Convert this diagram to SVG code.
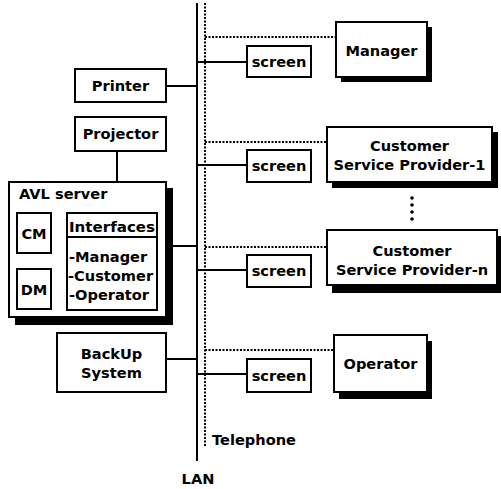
<svg xmlns="http://www.w3.org/2000/svg" width="501" height="489" viewBox="0 0 501 489">
<style>
.box{fill:#fff;stroke:#000;stroke-width:2}
.sh{fill:#000}
.t{font-family:"DejaVu Sans",Verdana,sans-serif;font-weight:bold;font-size:14.6px;fill:#000}
.c{text-anchor:middle}
.lan{stroke:#000;stroke-width:2;fill:none}
.tel{stroke:#000;stroke-width:2;stroke-dasharray:2 1.5;fill:none}
</style>
<rect width="501" height="489" fill="#fff"/>
<g id="connectors">
<line class="lan" x1="197" y1="3" x2="197" y2="461"/>
<line class="tel" x1="205" y1="3" x2="205" y2="447"/>
<line class="lan" x1="166" y1="86" x2="197" y2="86"/>
<line class="lan" x1="117" y1="151" x2="117" y2="182"/>
<line class="lan" x1="166" y1="246" x2="197" y2="246"/>
<line class="lan" x1="166" y1="359" x2="197" y2="359"/>
<line class="lan" x1="197" y1="62" x2="247" y2="62"/>
<line class="lan" x1="197" y1="165" x2="247" y2="165"/>
<line class="lan" x1="197" y1="270" x2="247" y2="270"/>
<line class="lan" x1="197" y1="374" x2="247" y2="374"/>
<line class="tel" x1="205" y1="37" x2="336" y2="37"/>
<line class="tel" x1="205" y1="142" x2="327" y2="142"/>
<line class="tel" x1="205" y1="247" x2="327" y2="247"/>
<line class="tel" x1="205" y1="350" x2="334" y2="350"/>
</g>
<g id="printer"><rect class="box" x="75" y="69" width="91" height="33"/><text class="t c" x="120.5" y="91">Printer</text></g>
<g id="projector"><rect class="box" x="75" y="117" width="91" height="34"/><text class="t c" x="120.5" y="139">Projector</text></g>
<g id="avl">
<rect class="sh" x="15" y="188" width="158" height="137"/>
<rect class="box" x="9" y="182" width="157" height="135"/>
<text class="t" x="19" y="199">AVL server</text>
<g id="cm"><rect class="box" x="17" y="213" width="34" height="40"/><text class="t c" x="34" y="239">CM</text></g>
<g id="dm"><rect class="box" x="17" y="269" width="34" height="40"/><text class="t c" x="34" y="295">DM</text></g>
<g id="interfaces"><rect class="box" x="67" y="213" width="90" height="97"/><line class="lan" x1="67" y1="237" x2="157" y2="237"/>
<text class="t c" x="112" y="232" textLength="86" lengthAdjust="spacingAndGlyphs">Interfaces</text>
<text class="t" x="69" y="262">-Manager</text>
<text class="t" x="68" y="281">-Customer</text>
<text class="t" x="69" y="300">-Operator</text></g>
</g>
<g id="backup"><rect class="box" x="57" y="333" width="109" height="59"/><text class="t c" x="111.5" y="359">BackUp</text><text class="t c" x="111.5" y="378">System</text></g>
<g id="screen1"><rect class="box" x="247" y="46" width="64" height="31"/><text class="t c" x="279" y="67">screen</text></g>
<g id="screen2"><rect class="box" x="247" y="150" width="64" height="32"/><text class="t c" x="279" y="171">screen</text></g>
<g id="screen3"><rect class="box" x="247" y="255" width="64" height="32"/><text class="t c" x="279" y="276">screen</text></g>
<g id="screen4"><rect class="box" x="247" y="359" width="64" height="33"/><text class="t c" x="279" y="381">screen</text></g>
<g id="manager"><rect class="sh" x="341" y="27" width="91" height="55"/><rect class="box" x="336" y="22" width="91" height="55"/><text class="t c" x="381.5" y="56">Manager</text></g>
<g id="csp1"><rect class="sh" x="332" y="132" width="166" height="56"/><rect class="box" x="327" y="127" width="165" height="55"/><text class="t c" x="409.5" y="151">Customer</text><text class="t c" x="409.5" y="170">Service Provider-1</text></g>
<g id="dots"><circle cx="412" cy="198" r="1.8"/><circle cx="412" cy="205" r="1.8"/><circle cx="412" cy="212" r="1.8"/><circle cx="412" cy="219" r="1.8"/></g>
<g id="cspn"><rect class="sh" x="332" y="236" width="170" height="57"/><rect class="box" x="327" y="230" width="170" height="55"/><text class="t c" x="412" y="256">Customer</text><text class="t c" x="412" y="275">Service Provider-n</text></g>
<g id="operator"><rect class="sh" x="339" y="341" width="93" height="58"/><rect class="box" x="334" y="335" width="93" height="57"/><text class="t c" x="380.5" y="369">Operator</text></g>
<text class="t" x="212" y="445">Telephone</text>
<text class="t c" x="198" y="484">LAN</text>
</svg>
